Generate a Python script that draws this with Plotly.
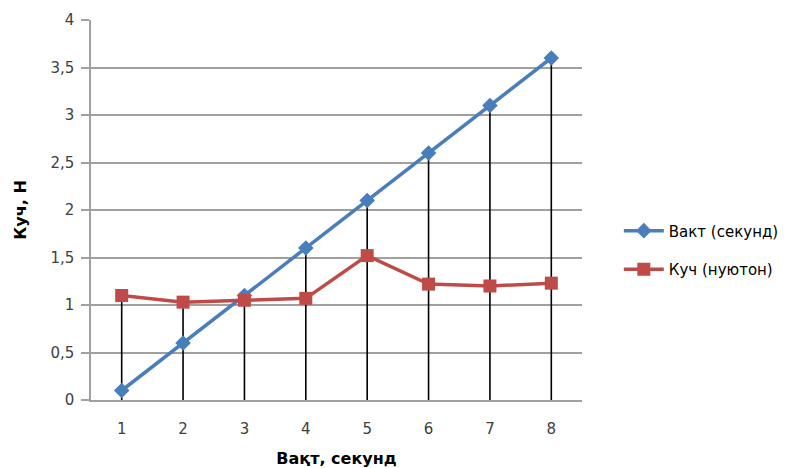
import plotly.graph_objects as go

# Measurements per second
seconds = [1, 2, 3, 4, 5, 6, 7, 8]
time_series = [0.1, 0.6, 1.1, 1.6, 2.1, 2.6, 3.1, 3.6]
force_series = [1.1, 1.03, 1.05, 1.07, 1.52, 1.22, 1.2, 1.23]
y_ticks = [0, 0.5, 1, 1.5, 2, 2.5, 3, 3.5, 4]

name_time = "Вакт (секунд)"
name_force = "Куч (нуютон)"
x_title = "Вақт, секунд"
y_title = "Куч, Н"

FONT = "DejaVu Sans"

# Drop lines from the higher of the two points down to zero
drop_x, drop_y = [], []
for s, a, b in zip(seconds, time_series, force_series):
    drop_x += [s, s, None]
    drop_y += [0, max(a, b), None]

fig = go.Figure()
fig.add_trace(go.Scatter(
    x=drop_x, y=drop_y, mode="lines",
    line=dict(color="#000000", width=1.6),
    showlegend=False, hoverinfo="skip",
))
fig.add_trace(go.Scatter(
    x=seconds, y=time_series, name=name_time, mode="lines+markers",
    line=dict(color="#4a7ebb", width=3.5),
    marker=dict(symbol="diamond", size=12, color="#4a7ebb"),
    legendgroup="a",
))
fig.add_trace(go.Scatter(
    x=seconds, y=force_series, name=name_force, mode="lines+markers",
    line=dict(color="#be4b48", width=3.5),
    marker=dict(symbol="square", size=13, color="#be4b48"),
    legendgroup="b",
))

fig.update_layout(
    width=800, height=468,
    margin=dict(l=91, r=218, t=20, b=68),
    paper_bgcolor="white", plot_bgcolor="white",
    separators=", ",
    font=dict(family=FONT, size=15, color="#404040"),
    legend=dict(
        x=1.075, y=0.395, yanchor="middle", xanchor="left",
        font=dict(family=FONT, size=15, color="#000000"),
        tracegroupgap=16, itemwidth=40,
    ),
    xaxis=dict(
        range=[0.5, 8.5], tickmode="array", tickvals=seconds,
        ticks="", ticklabelstandoff=14, automargin=False,
        showgrid=False, zeroline=False,
        showline=True, linecolor="#a0a0a0", linewidth=1.5,
        title=dict(text="<b>" + x_title + "</b>", standoff=22,
                   font=dict(family=FONT, size=16, color="#000000")),
    ),
    yaxis=dict(
        range=[0, 4], tickmode="array", tickvals=y_ticks,
        ticks="outside", ticklen=8, tickcolor="#a0a0a0", tickwidth=1.5,
        ticklabelstandoff=4, automargin=False,
        showgrid=True, gridcolor="#a0a0a0", gridwidth=1.5,
        zeroline=False,
        showline=True, linecolor="#a0a0a0", linewidth=1.5,
        title=dict(text="<b>" + y_title + "</b>", standoff=20,
                   font=dict(family=FONT, size=16, color="#000000")),
    ),
)

fig.write_html("out.html")
